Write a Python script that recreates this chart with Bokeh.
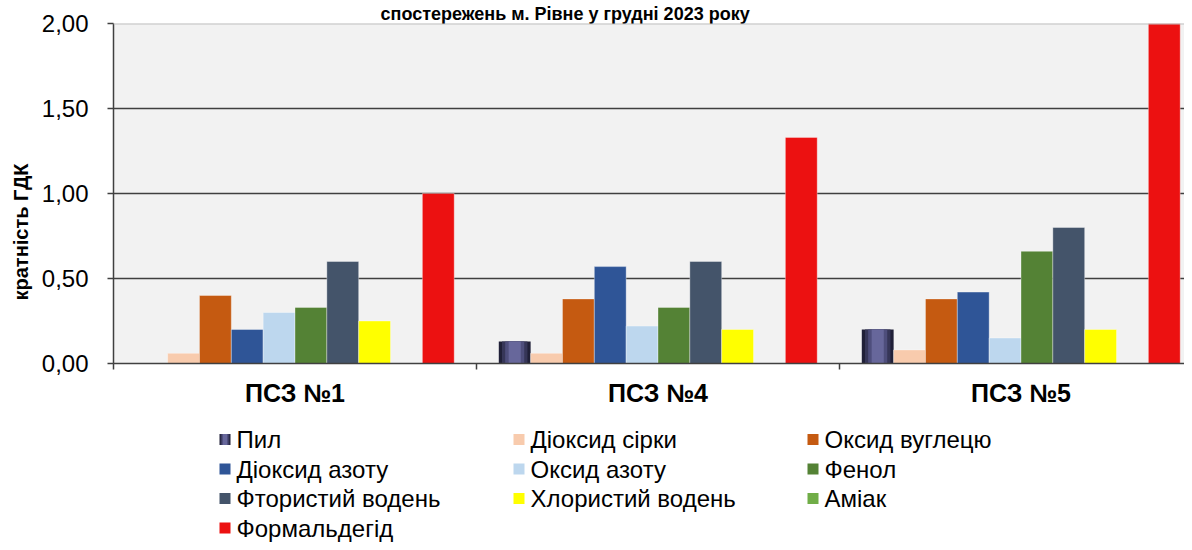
from bokeh.plotting import figure
from bokeh.layouts import column
from bokeh.models import (Range1d, FixedTicker, Span, Title, ColumnDataSource,
                          CustomJSTickFormatter)
from bokeh.core.properties import value
from bokeh.embed import file_html
from bokeh.resources import INLINE

# ---------------- data ----------------
title_text = "спостережень м. Рівне у грудні 2023 року"
y_label = "кратність ГДК"
stations = ["ПСЗ №1", "ПСЗ №4", "ПСЗ №5"]
pollutants = ["Пил", "Діоксид сірки", "Оксид вуглецю", "Діоксид азоту", "Оксид азоту",
              "Фенол", "Фтористий водень", "Хлористий водень", "Аміак", "Формальдегід"]
pyl = [0.00, 0.13, 0.20]
dioksyd_sirky = [0.06, 0.06, 0.08]
oksyd_vuhletsiu = [0.40, 0.38, 0.38]
dioksyd_azotu = [0.20, 0.57, 0.42]
oksyd_azotu = [0.30, 0.22, 0.15]
fenol = [0.33, 0.33, 0.66]
ftorystyi_voden = [0.60, 0.60, 0.80]
khlorystyi_voden = [0.25, 0.20, 0.20]
amiak = [0.00, 0.00, 0.00]
formaldehid = [1.00, 1.33, 2.00]
y_ticks = [0.0, 0.5, 1.0, 1.5, 2.0]

series = [pyl, dioksyd_sirky, oksyd_vuhletsiu, dioksyd_azotu, oksyd_azotu,
          fenol, ftorystyi_voden, khlorystyi_voden, amiak, formaldehid]
colors = ["#202038", "#f8cbad", "#c55a11", "#2f5597", "#bdd7ee",
          "#548235", "#44546a", "#ffff00", "#70ad47", "#ec1111"]
pyl_layers = [(0.80, "#363658"), (0.60, "#4e4e7c"), (0.38, "#67679b")]

# ---------------- layout ----------------
FONT = "Liberation Sans"
W = 1184
H_MAIN, H_LEG = 420, 122
left, top, frame_bottom = 113, 23, 363
frame_w = W - left
group_px = 363.0
n = len(pollutants)
gap = 1.4                       # gap between groups, in bar widths
slot = 1.0 / (n + gap)

p = figure(width=W, height=H_MAIN, output_backend="svg", toolbar_location=None,
           x_range=Range1d(0, frame_w / group_px), y_range=Range1d(y_ticks[0], y_ticks[-1]),
           min_border_left=left, min_border_right=0, min_border_top=top,
           min_border_bottom=H_MAIN - frame_bottom,
           background_fill_color="#f2f2f2", border_fill_color="white",
           outline_line_color=None)

# grid
p.xgrid.visible = False
p.ygrid.ticker = FixedTicker(ticks=y_ticks[1:-1])
p.ygrid.grid_line_color = "#404040"
p.ygrid.grid_line_width = 1.3
p.add_layout(Span(location=y_ticks[-1], dimension="width", line_color="#c0c0c0", line_width=2))

# bars
for i, (name, vals, col) in enumerate(zip(pollutants, series, colors)):
    xs = [g + slot * (gap / 2 + 0.5 + i) for g in range(len(stations))]
    src = ColumnDataSource(dict(x=xs, top=vals))
    if i == 0:
        p.vbar(x="x", top="top", width=slot, source=src, fill_color=col, line_color=None)
        for frac, c in pyl_layers:
            p.vbar(x="x", top="top", width=slot * frac, source=src,
                   fill_color=c, line_color=None)
    else:
        p.vbar(x="x", top="top", width=slot, source=src, fill_color=col,
               line_color="white", line_alpha=0.35, line_width=1)

# y axis
ya = p.yaxis[0]
ya.ticker = FixedTicker(ticks=y_ticks)
ya.formatter = CustomJSTickFormatter(code="return tick.toFixed(2).replace('.', ',')")
ya.major_label_text_font = FONT
ya.major_label_text_font_size = "24px"
ya.major_label_text_color = "#000000"
ya.major_tick_out = 6
ya.major_tick_in = 0
ya.major_tick_line_color = "#404040"
ya.major_tick_line_width = 1.5
ya.minor_tick_line_color = None
ya.axis_line_color = "#404040"
ya.axis_line_width = 1.5
ya.major_label_standoff = 19

# y axis title (placed lower than centre, as in the reference)
p.add_layout(Title(text=y_label, align="left", offset=63, standoff=13,
                   text_font=FONT, text_font_style="bold", text_font_size="20px",
                   text_color="#000000"), "left")

# x axis
xa = p.xaxis[0]
xa.ticker = FixedTicker(ticks=[g + 0.5 for g in range(len(stations))],
                        minor_ticks=list(range(len(stations) + 1)))
xa.formatter = CustomJSTickFormatter(args=dict(labels=stations),
                                     code="return labels[Math.floor(tick)]")
xa.major_tick_out = 0
xa.major_tick_in = 0
xa.major_tick_line_color = None
xa.minor_tick_out = 6
xa.minor_tick_in = 0
xa.minor_tick_line_color = "#404040"
xa.minor_tick_line_width = 1.5
xa.axis_line_color = "#404040"
xa.axis_line_width = 1.5
xa.major_label_text_font = FONT
xa.major_label_text_font_style = "bold"
xa.major_label_text_font_size = "25px"
xa.major_label_text_color = "#000000"
xa.major_label_standoff = 9

# chart title (only its last line is in view in the reference)
p.add_layout(Title(text=title_text, align="left", offset=267, standoff=0,
                   text_font=FONT, text_font_style="bold", text_font_size="18px",
                   text_color="#000000"), "above")

# ---------------- legend (own panel; its frame lines up with the chart frame) ----------------
leg = figure(width=W, height=H_LEG, output_backend="svg", toolbar_location=None,
             x_range=Range1d(left, W), y_range=Range1d(H_LEG, 0),
             min_border_left=left, min_border_right=0, min_border_top=0, min_border_bottom=0,
             outline_line_color=None, x_axis_type=None, y_axis_type=None,
             background_fill_color="white", border_fill_color="white")
leg.grid.visible = False

ncols = 3
col_x0, col_pitch = 219, 294
row_y0, row_pitch = 439 - H_MAIN, 29.5
box = 11
gx = [col_x0 + (i % ncols) * col_pitch + box / 2 for i in range(n)]
gy = [row_y0 + (i // ncols) * row_pitch for i in range(n)]
tx = [col_x0 + (i % ncols) * col_pitch + box + 6 for i in range(n)]
lsrc = ColumnDataSource(dict(gx=gx, gy=gy, tx=tx, label=pollutants, color=colors))
leg.rect(x="gx", y="gy", width=box, height=box, source=lsrc,
         fill_color="color", line_color=None)
# Пил swatch shading
psrc = ColumnDataSource(dict(gx=gx[:1], gy=gy[:1]))
for frac, c in pyl_layers:
    leg.rect(x="gx", y="gy", width=box * frac, height=box, source=psrc,
             fill_color=c, line_color=None)
leg.text(x="tx", y="gy", text="label", source=lsrc, text_font=value(FONT),
         text_font_size=value("24px"), text_baseline="middle", text_align="left",
         text_color="#000000")

layout = column(p, leg, spacing=0)
open("out.html", "w").write(file_html(layout, INLINE))
